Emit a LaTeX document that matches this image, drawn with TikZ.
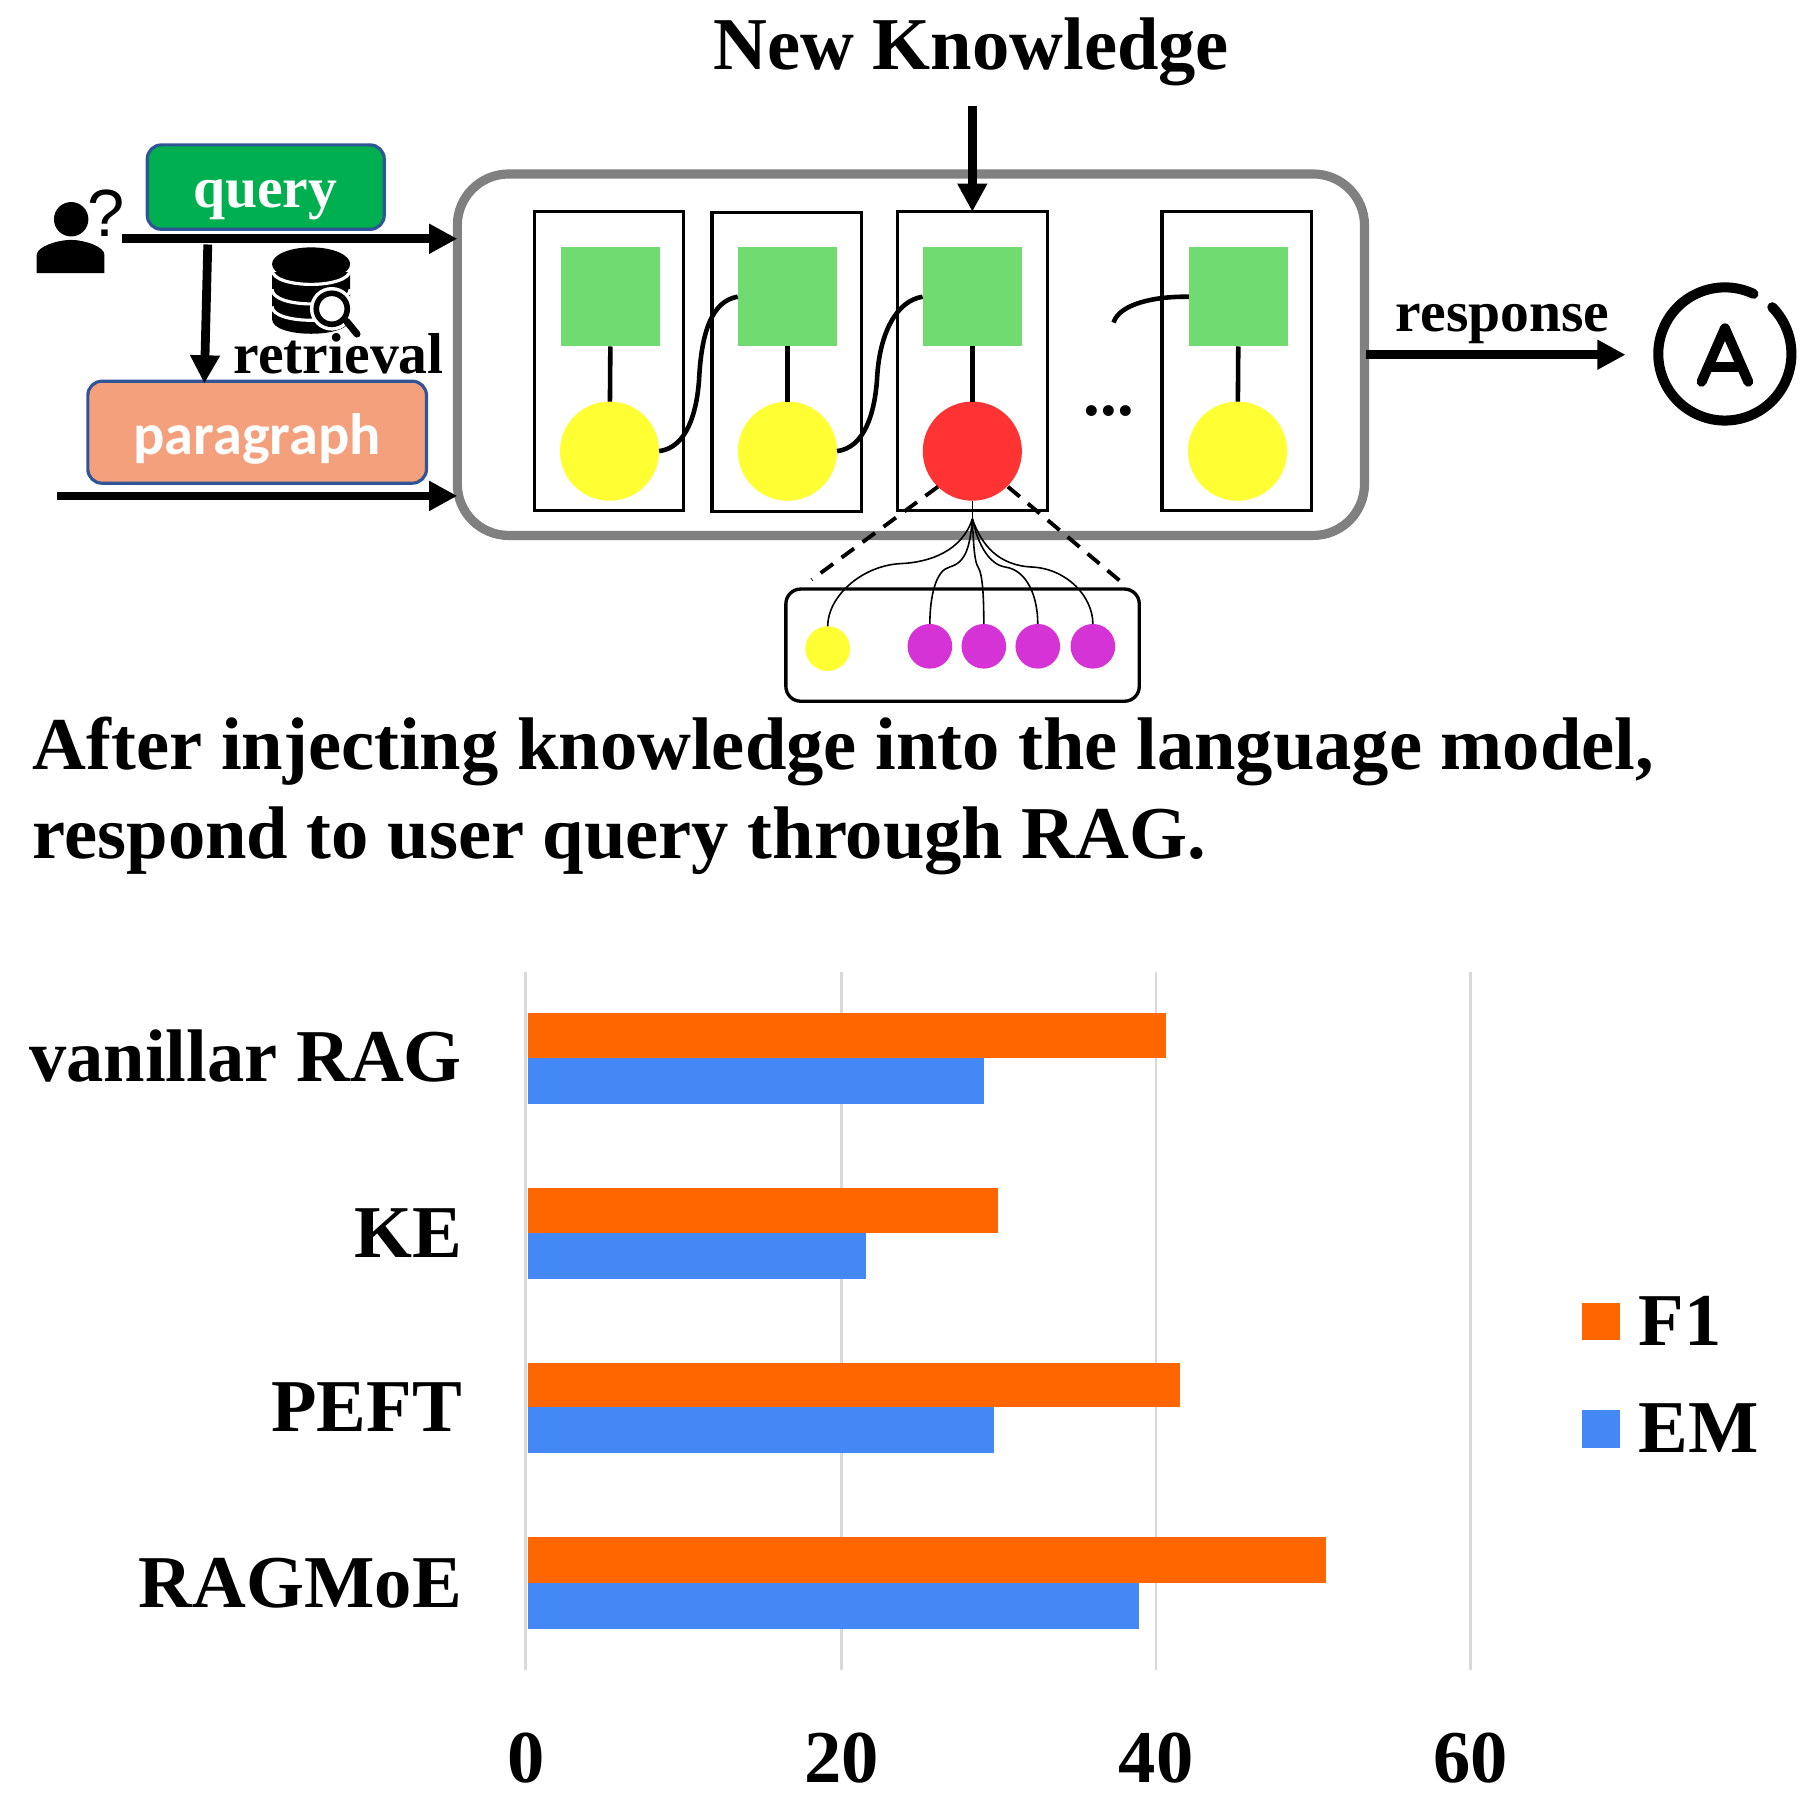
\documentclass[tikz,border=0pt]{standalone}
\usepackage{fontspec}
\setmainfont{Liberation Serif}
\newfontfamily\parafont{Carlito}
\newfontfamily\marksfont{Liberation Sans}
\usetikzlibrary{arrows.meta}
\definecolor{queryfill}{HTML}{00B050}
\definecolor{boxedge}{HTML}{2F5597}
\definecolor{parafill}{HTML}{F4A07C}
\definecolor{blockgreen}{HTML}{70DB70}
\definecolor{blockyellow}{HTML}{FFFF33}
\definecolor{blockred}{HTML}{FF3333}
\definecolor{blockmagenta}{HTML}{D633D6}
\definecolor{framegray}{HTML}{808080}
\definecolor{gridgray}{HTML}{D9D9D9}
\definecolor{barorange}{HTML}{FF6600}
\definecolor{barblue}{HTML}{4488F5}
\tikzset{
    bigtext/.style={font=\bfseries\fontsize{21.2}{25.4}\selectfont,inner sep=0pt},
    smalltext/.style={font=\bfseries\fontsize{16.4}{19}\selectfont},
    inbox/.style={draw=boxedge,line width=0.9pt,rounded corners=4pt,inner sep=0pt,outer sep=0pt},
    mainframe/.style={draw=framegray,line width=2.6pt,rounded corners=14.6pt,minimum width=258pt,minimum height=102.8pt,inner sep=0pt,outer sep=0pt},
    column/.style={draw,line width=0.9pt,minimum width=42.6pt,minimum height=84.9pt,inner sep=0pt,outer sep=0pt},
    block/.style={fill=blockgreen,minimum size=28.3pt,inner sep=0pt,outer sep=0pt},
    token/.style={circle,minimum size=28.2pt,inner sep=0pt,outer sep=0pt},
    subtoken/.style={circle,minimum size=12.7pt,inner sep=0pt,outer sep=0pt},
    stem/.style={draw=black,line width=1.3pt},
    wire/.style={draw=black,line width=1.3pt},
    twig/.style={draw=black,line width=0.45pt},
    zoomline/.style={draw=black,line width=1.1pt,dash pattern=on 4.4pt off 3pt},
    flow/.style={-{Triangle[length=8pt,width=8pt]},draw=black,line width=2.5pt},
    gridline/.style={draw=gridgray,line width=0.75pt},
}
\begin{document}
\begin{tikzpicture}[x=0.01148cm,y=-0.01148cm]
    \useasboundingbox (0,0) rectangle (1568,1568);
    \node[bigtext] (newk) at (846,45) {New Knowledge};
    \node[mainframe] (main) at (793.5,309) {};
    \node[column] (col1) at (530.5,314.5) {};
    \node[column] (col2) at (685.5,315.5) {};
    \node[column] (col3) at (847,314.5) {};
    \node[column] (col4) at (1077.5,314.5) {};
    \node[block] (sq1) at (532,258.5) {};
    \node[block] (sq2) at (686,258.5) {};
    \node[block] (sq3) at (847,258.5) {};
    \node[block] (sq4) at (1079,258.5) {};
    \node[token,fill=blockyellow] (tk1) at (531,393) {};
    \node[token,fill=blockyellow] (tk2) at (686,393) {};
    \node[token,fill=blockred] (tk3) at (847,393) {};
    \node[token,fill=blockyellow] (tk4) at (1078,393) {};
    \node[anchor=base,font=\bfseries\fontsize{19}{20}\selectfont] (dots) at (966,362) {...};
    \draw[stem] (sq1) -- (tk1);
    \draw[stem] (sq2) -- (tk2);
    \draw[stem] (sq3) -- (tk3);
    \draw[stem] (sq4) -- (tk4);
    \draw[wire] (tk1.east) .. controls (598,390) and (607,360) .. (609,330) .. controls (611,290) and (620,262) .. (sq2.west);
    \draw[wire] (tk2.east) .. controls (753,390) and (762,360) .. (764,330) .. controls (766,290) and (781,262) .. (sq3.west);
    \coordinate (wirefree) at (970,281);
    \draw[wire] (wirefree) .. controls (975,265) and (1005,258) .. (sq4.west);
    \coordinate (newkout) at (847,92);
    \draw[flow] (newkout) -- (col3.north);
    \coordinate (leftz) at (707,505);
    \coordinate (rightz) at (981.5,511);
    \coordinate (leftr) at (817,424);
    \coordinate (rightr) at (878,424);
    \draw[zoomline] (leftr) -- (leftz);
    \draw[zoomline] (rightr) -- (rightz);
    \node[draw,line width=0.95pt,rounded corners=4.2pt,minimum width=100.5pt,minimum height=31.9pt,inner sep=0pt,outer sep=0pt,fill=none] (subbox) at (838.5,562) {};
    \node[subtoken,fill=blockyellow] (sub0) at (721,565) {};
    \node[subtoken,fill=blockmagenta] (sub1) at (810,563) {};
    \node[subtoken,fill=blockmagenta] (sub2) at (857,563) {};
    \node[subtoken,fill=blockmagenta] (sub3) at (904,563) {};
    \node[subtoken,fill=blockmagenta] (sub4) at (952,563) {};
    \coordinate (fork) at (847,452);
    \draw[twig] (tk3.south) -- (fork);
    \draw[twig] (fork) .. controls (838,480) and (810,490) .. (784,491) .. controls (750,493) and (721,520) .. (sub0.north);
    \draw[twig] (fork) .. controls (845,475) and (842,490) .. (827,494) .. controls (815,497) and (810,520) .. (sub1.north);
    \draw[twig] (fork) .. controls (848,475) and (849,490) .. (852,494) .. controls (856,500) and (857,520) .. (sub2.north);
    \draw[twig] (fork) .. controls (852,475) and (862,492) .. (876,494) .. controls (895,497) and (904,520) .. (sub3.north);
    \draw[twig] (fork) .. controls (855,475) and (870,493) .. (900,494) .. controls (930,496) and (952,520) .. (sub4.north);
    \fill (62,191) ellipse [x radius=15,y radius=15];
    \fill (32,238) -- (32,222) .. controls (32,215) and (50,209) .. (62,209) .. controls (74,209) and (91,215) .. (91,222) -- (91,238) -- cycle;
    \node[font=\marksfont\fontsize{19}{20}\selectfont] (askmark) at (92,186) {?};
    \node[inbox,fill=queryfill,minimum width=67.4pt,minimum height=24pt] (query) at (231.5,163) {};
    \node[smalltext,text=white] (querytext) at (231,174) {query};
    \node[inbox,fill=parafill,minimum width=96.3pt,minimum height=29pt] (para) at (224,376.5) {};
    \node[font=\parafont\bfseries\fontsize{16.6}{19}\selectfont,text=white] (paratext) at (224,382) {paragraph};
    \coordinate (userout) at (106,208);
    \coordinate (parain) at (50,432);
    \coordinate (fetchout) at (181,213);
    \coordinate (fetchtip) at (178,334);
    \draw[flow] (userout) -- (userout -| main.west);
    \draw[flow] (parain) -- (parain -| main.west);
    \draw[flow] (fetchout) -- (fetchtip);
    \fill (271,230) ellipse [x radius=34,y radius=14.5];
    \fill (237,237) -- (237,278) .. controls (237,295) and (305,295) .. (305,278) -- (305,237) -- cycle;
    \draw[white,line width=0.9pt] (237,235) .. controls (237,252) and (305,252) .. (305,235);
    \draw[white,line width=0.9pt] (237,252) .. controls (237,269) and (305,269) .. (305,252);
    \draw[white,line width=0.9pt] (237,267) .. controls (237,283) and (305,283) .. (305,267);
    \fill[white] (289,269) circle [radius=19];
    \draw[line width=1.6pt] (289,269) circle [radius=13.5];
    \draw[line width=2pt,line cap=round] (302,280) -- (311,291);
    \node[smalltext] (retrieval) at (295,308) {retrieval};
    \coordinate (respout) at (1190,309);
    \coordinate (resptip) at (1416,309);
    \draw[flow] (respout) -- (resptip);
    \node[smalltext] (response) at (1309,282) {response};
    \draw[line width=2.85pt,line cap=round] (1527.5,256) arc [start angle=-64.5,end angle=-404.6,radius=58];
    \draw[line width=2.85pt,line cap=round,line join=round] (1482.3,332.5) -- (1502.6,286) -- (1522.9,332.5);
    \draw[line width=2.85pt] (1489,319.4) -- (1516,319.4);
    \node[bigtext,anchor=base west,align=left] (caption) at (28,748) {After injecting knowledge into the language model,\\respond to user query through RAG.};
    \draw[gridline] (458,847) -- (458,1455);
    \draw[gridline] (733,847) -- (733,1455);
    \draw[gridline] (1007,847) -- (1007,1455);
    \draw[gridline] (1281,847) -- (1281,1455);
    \fill[barorange] (460,882) rectangle (1016,922);
    \fill[barblue] (460,922) rectangle (857,962);
    \fill[barorange] (460,1035) rectangle (869,1074);
    \fill[barblue] (460,1074) rectangle (754,1114);
    \fill[barorange] (460,1187) rectangle (1028,1226);
    \fill[barblue] (460,1226) rectangle (866,1266);
    \fill[barorange] (460,1339) rectangle (1155,1379);
    \fill[barblue] (460,1379) rectangle (992,1419);
    \node[bigtext,anchor=base east] (lab1) at (403,942) {vanillar RAG};
    \node[bigtext,anchor=base east] (lab2) at (403,1095) {KE};
    \node[bigtext,anchor=base east] (lab3) at (403,1247) {PEFT};
    \node[bigtext,anchor=base east] (lab4) at (403,1400) {RAGMoE};
    \node[bigtext,anchor=base] (tick0) at (458,1553) {0};
    \node[bigtext,anchor=base] (tick20) at (733,1553) {20};
    \node[bigtext,anchor=base] (tick40) at (1007,1553) {40};
    \node[bigtext,anchor=base] (tick60) at (1281,1553) {60};
    \fill[barorange] (1378,1135) rectangle (1411,1167);
    \fill[barblue] (1378,1228) rectangle (1411,1261);
    \node[bigtext,anchor=base west] (legf) at (1427,1172) {F1};
    \node[bigtext,anchor=base west] (lege) at (1427,1265) {EM};
\end{tikzpicture}
\end{document}
